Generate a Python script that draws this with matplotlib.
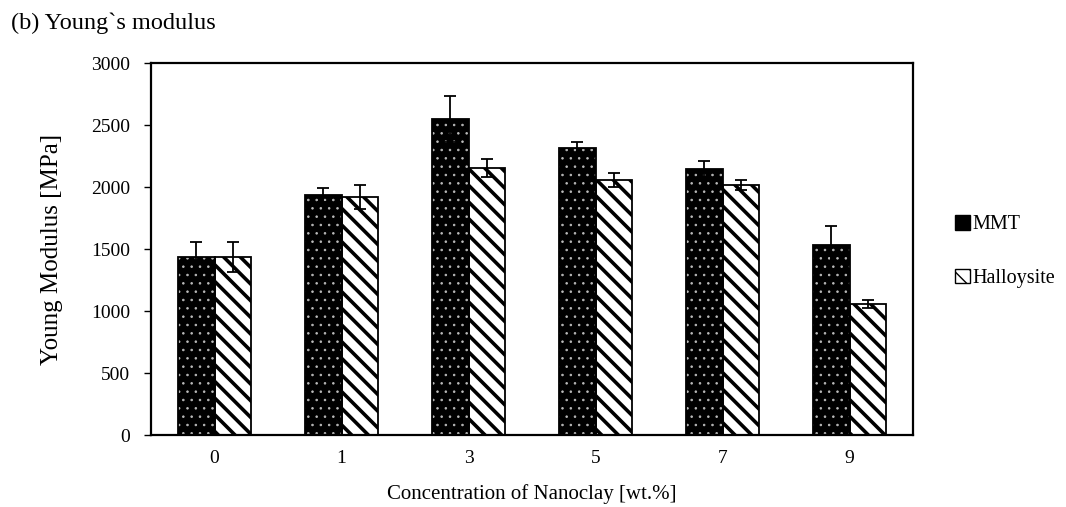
import matplotlib
matplotlib.use("Agg")
import matplotlib.pyplot as plt
import numpy as np
from matplotlib.patches import Patch

# data
concentrations = ["0", "1", "3", "5", "7", "9"]
mmt = [1435, 1935, 2548, 2315, 2145, 1532]
mmt_err = [120, 55, 185, 50, 65, 155]
halloysite = [1435, 1920, 2153, 2056, 2016, 1056]
halloysite_err = [120, 100, 75, 55, 40, 35]

plt.rcParams.update({
    "font.family": "Liberation Serif",
    "font.size": 14,
})

fig = plt.figure(figsize=(10.66, 5.07), dpi=100)
ax = fig.add_axes([0.1417, 0.142, 0.7148, 0.7337])

x = np.arange(len(concentrations))
w = 0.29

# MMT: black fill with small light dots, outlined separately
with plt.rc_context({"hatch.linewidth": 0.6}):
    ax.bar(x - w / 2, mmt, w, color="black", edgecolor="#bbbbbb", hatch="..",
           linewidth=0, zorder=2)
ax.bar(x - w / 2, mmt, w, fill=False, edgecolor="black", linewidth=1.3, zorder=3)
ax.errorbar(x - w / 2, mmt, yerr=mmt_err, fmt="none", ecolor="black",
            elinewidth=1.3, capsize=4.5, capthick=1.3, zorder=4)

# Halloysite: white with thick diagonal stripes
with plt.rc_context({"hatch.linewidth": 2.6}):
    ax.bar(x + w / 2, halloysite, w, color="white", edgecolor="black",
           hatch="\\\\", linewidth=1.3, zorder=2)
ax.errorbar(x + w / 2, halloysite, yerr=halloysite_err, fmt="none",
            ecolor="black", elinewidth=1.3, capsize=4.5, capthick=1.3, zorder=4)

ax.set_xlim(-0.5, len(concentrations) - 0.5)
ax.set_ylim(0, 3000)
ax.set_yticks(range(0, 3001, 500))
ax.set_xticks(x)
ax.set_xticklabels(concentrations)
ax.tick_params(axis="x", length=0, pad=11, labelsize=14)
ax.tick_params(axis="y", direction="out", length=5, width=1, labelsize=14, pad=10)
for s in ax.spines.values():
    s.set_linewidth(1.6)

ax.set_xlabel("Concentration of Nanoclay [wt.%]", fontsize=15, labelpad=12)
ax.set_ylabel("Young Modulus [MPa]", fontsize=18, labelpad=20)

fig.text(0.01, 0.955, "(b) Young`s modulus", fontsize=17.5, ha="left", va="center")

handles = [
    Patch(facecolor="black", edgecolor="black", label="MMT"),
    Patch(facecolor="white", edgecolor="black", hatch="\\\\", label="Halloysite"),
]
fig.legend(handles=handles, loc="center left", bbox_to_anchor=(0.896, 0.504),
           frameon=False, fontsize=14.5, handlelength=0.75, handleheight=0.75,
           handletextpad=0.1, labelspacing=1.7, borderpad=0, borderaxespad=0)

fig.savefig("out.png", dpi=100)
